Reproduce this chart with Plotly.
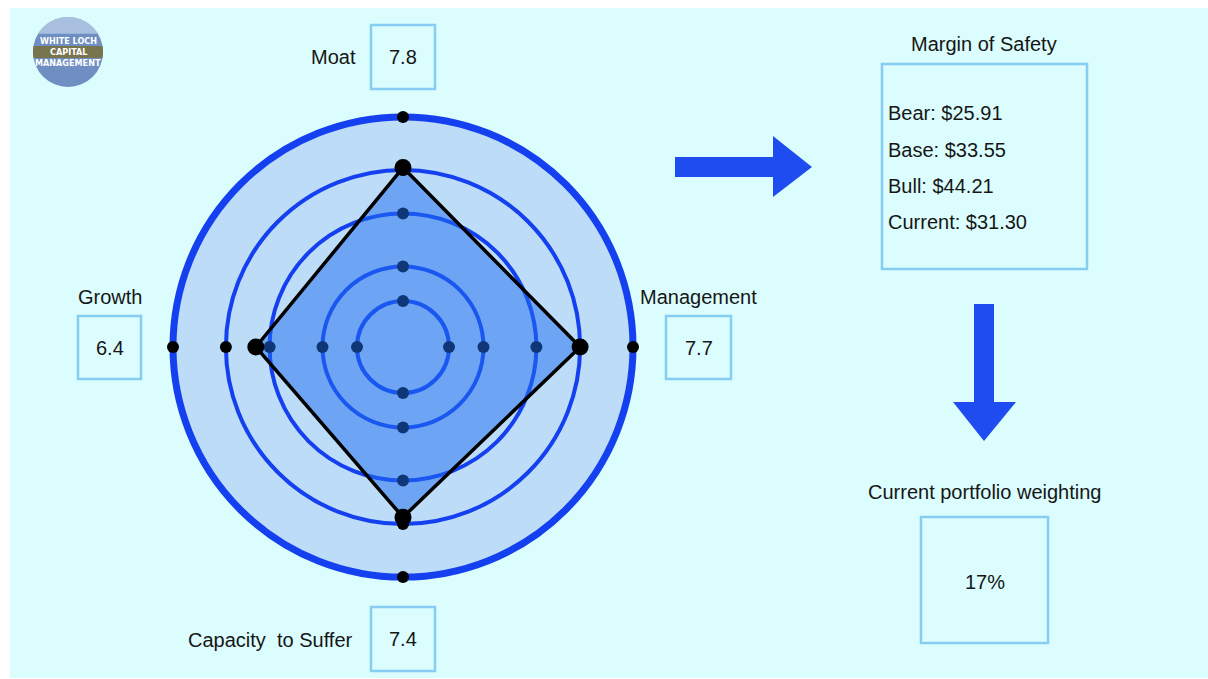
import numpy as np
import plotly.graph_objects as go

# ---- data ----
criteria = ["Moat", "Management", "Capacity  to Suffer", "Growth"]
scores = [7.8, 7.7, 7.4, 6.4]
ring_levels = [2.0, 3.5, 5.8, 7.7]
axis_dots = [2.0, 3.5, 5.8, 7.7, 10.0]
scale_max = 10

mos_title = "Margin of Safety"
mos_labels = ["Bear", "Base", "Bull", "Current"]
mos_prices = [25.91, 33.55, 44.21, 31.30]
weight_title = "Current portfolio weighting"
weight_pct = 17

W, H = 1208, 679
FONT = "Liberation Sans, Arial, sans-serif"
INK = "#161616"
BOX = "#86cdf4"
BLUE = "#1440f0"
ARROW = "#1f4cf0"
FS = 20


def px(x):
    return x / W


def py(y):
    return 1 - y / H


fig = go.Figure()

# dots sitting on each axis (drawn first so the score polygon tints them)
dot_r, dot_t = [], []
for c in criteria:
    for r in axis_dots:
        dot_r.append(r)
        dot_t.append(c)
fig.add_trace(go.Scatterpolar(
    r=dot_r, theta=dot_t, mode="markers",
    marker=dict(color="black", size=12), cliponaxis=False,
    hoverinfo="skip", showlegend=False))

# score polygon
fig.add_trace(go.Scatterpolar(
    r=scores + [scores[0]], theta=criteria + [criteria[0]],
    mode="lines", fill="toself", fillcolor="rgba(30,110,240,0.5)",
    line=dict(color="black", width=3.5), showlegend=False))

# score vertices
fig.add_trace(go.Scatterpolar(
    r=scores, theta=criteria, mode="markers",
    marker=dict(color="black", size=17), cliponaxis=False,
    showlegend=False))

fig.update_layout(
    width=W, height=H,
    margin=dict(l=0, r=0, t=0, b=0),
    paper_bgcolor="white",
    showlegend=False,
    polar=dict(
        domain=dict(x=[px(173), px(633)], y=[py(577), py(117)]),
        bgcolor="#bcdcf8",
        angularaxis=dict(rotation=90, direction="clockwise",
                         showline=True, linecolor=BLUE, linewidth=7,
                         showgrid=False, showticklabels=False, ticks="",
                         layer="below traces"),
        radialaxis=dict(range=[0, scale_max], tickvals=ring_levels,
                        showticklabels=False, ticks="", showline=False,
                        gridcolor=BLUE, gridwidth=4, layer="below traces"),
    ),
)

shapes = []
# page background
shapes.append(dict(type="rect", xref="paper", yref="paper", layer="below",
                   x0=px(10), x1=px(1208), y0=py(678), y1=py(8),
                   fillcolor="#dbfdfd", line=dict(width=0)))

annotations = []


def box(x0, y0, x1, y1):
    shapes.append(dict(type="rect", xref="paper", yref="paper",
                       x0=px(x0), x1=px(x1), y0=py(y1), y1=py(y0),
                       line=dict(color=BOX, width=2.5)))


def text(x, y, s, anchor="center", size=FS, color=INK, bold=False, family=FONT):
    if bold:
        s = "<b>" + s + "</b>"
    annotations.append(dict(x=px(x), y=py(y), xref="paper", yref="paper",
                            text=s, showarrow=False, xanchor=anchor,
                            yanchor="middle",
                            font=dict(family=family, size=size, color=color)))


# criterion labels with score boxes
label_pos = {
    "Moat": dict(label=(358, 57, "right"), box=(371, 25, 435, 89)),
    "Management": dict(label=(698, 297, "center"), box=(666, 316, 731, 379)),
    "Capacity  to Suffer": dict(label=(355, 640, "right"), box=(371, 607, 435, 671)),
    "Growth": dict(label=(110, 297, "center"), box=(78, 316, 141, 379)),
}
for c, s in zip(criteria, scores):
    lx, ly, la = label_pos[c]["label"]
    text(lx, ly, c, anchor=la)
    bx0, by0, bx1, by1 = label_pos[c]["box"]
    box(bx0, by0, bx1, by1)
    text((bx0 + bx1) / 2, (by0 + by1) / 2, f"{s:.1f}")

# margin of safety panel
text(984, 44, mos_title)
box(882, 64, 1087, 269)
for i, (lab, price) in enumerate(zip(mos_labels, mos_prices)):
    text(886, 113 + i * 36.5, f"{lab}: ${price:.2f}", anchor="left")

# portfolio weighting panel
text(984, 492, weight_title)
box(921, 517, 1048, 643)
text(984.5, 582, f"{weight_pct}%")

# arrows
right_arrow = [(675, 157), (773, 157), (773, 136), (812, 167), (773, 197),
               (773, 177), (675, 177)]
down_arrow = [(974, 304), (994, 304), (994, 402), (1016, 402), (984, 441),
              (953, 402), (974, 402)]
for pts in (right_arrow, down_arrow):
    path = "M " + " L ".join(f"{px(x)},{py(y)}" for x, y in pts) + " Z"
    shapes.append(dict(type="path", xref="paper", yref="paper", path=path,
                       fillcolor=ARROW, line=dict(width=0)))

# logo badge
cx, cy, cr = 68, 52, 35
shapes.append(dict(type="circle", xref="paper", yref="paper",
                   x0=px(cx - cr), x1=px(cx + cr), y0=py(cy + cr), y1=py(cy - cr),
                   fillcolor="#6f8fc2", line=dict(width=0)))
# lighter sky on the upper cap
ang = np.linspace(np.pi + 0.55, 2 * np.pi - 0.55, 40)
cap = [(cx + cr * np.cos(a), cy + cr * np.sin(a)) for a in ang]
shapes.append(dict(type="path", xref="paper", yref="paper",
                   path="M " + " L ".join(f"{px(x)},{py(y)}" for x, y in cap) + " Z",
                   fillcolor="#a9bfe0", line=dict(width=0)))
# olive band across the middle
top, bot = 46, 58
a1 = np.arcsin((bot - cy) / cr)
a0 = np.arcsin((top - cy) / cr)
right_side = [(cx + cr * np.cos(a), cy + cr * np.sin(a)) for a in np.linspace(a0, a1, 8)]
left_side = [(cx - cr * np.cos(a), cy + cr * np.sin(a)) for a in np.linspace(a1, a0, 8)]
band = right_side + left_side
shapes.append(dict(type="path", xref="paper", yref="paper",
                   path="M " + " L ".join(f"{px(x)},{py(y)}" for x, y in band) + " Z",
                   fillcolor="#77754d", line=dict(width=0)))
logo_font = "Liberation Sans Narrow, DejaVu Sans Condensed, sans-serif"
text(68, 41, "WHITE LOCH", size=9, color="white", bold=True, family=logo_font)
text(68, 52, "CAPITAL", size=9, color="white", bold=True, family=logo_font)
text(68, 63, "MANAGEMENT", size=9, color="white", bold=True, family=logo_font)

fig.update_layout(shapes=shapes, annotations=annotations)
fig.write_html("out.html")
